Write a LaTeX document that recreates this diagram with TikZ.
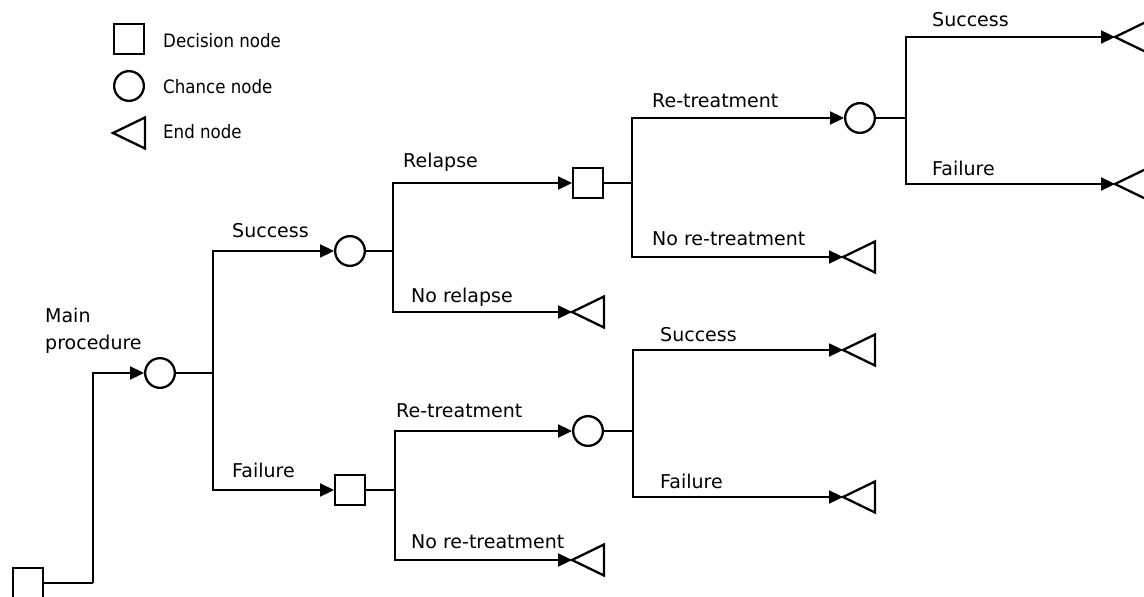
\documentclass[tikz,border=0pt]{standalone}
\usepackage{fontspec}
\setmainfont{DejaVu Sans}
\newfontfamily\condfont{DejaVu Sans Condensed}
\usetikzlibrary{arrows.meta}
\begin{document}
\begin{tikzpicture}[x=1pt,y=-1pt,
  decbox/.style={draw,line width=2.3pt,minimum size=29.7pt,inner sep=0pt},
  chancenode/.style={draw,circle,line width=2.3pt,minimum size=29.7pt,inner sep=0pt},
  endtri/.style={draw,line width=2.3pt,line join=miter},
  conn/.style={draw,line width=2.3pt},
  arr/.style={draw,line width=2.3pt,-{Triangle[length=14pt,width=13pt]}},
  lbl/.style={anchor=base west,inner sep=0pt,font=\fontsize{19}{23}\selectfont},
  leg/.style={anchor=base west,inner sep=0pt,font=\condfont\fontsize{18.5}{22}\selectfont}]
\useasboundingbox (0,0) rectangle (1144,597);

% legend
\node[decbox] (ldec) at (129,39) {};
\node[chancenode] (lch) at (129,86) {};
\coordinate (lend) at (113,133);
\draw[endtri] (lend) -- ++(32,-15.5) -- ++(0,31) -- cycle;
\node[leg] (tdec) at (163,47) {Decision node};
\node[leg] (tch) at (163,93) {Chance node};
\node[leg] (tend) at (163,138) {End node};

% nodes
\node[decbox] (d0) at (28,583) {};
\node[chancenode] (c0) at (160,373) {};
\node[chancenode] (c1) at (350,251) {};
\node[decbox] (d1) at (350,490) {};
\node[decbox] (d2) at (588,183) {};
\node[chancenode] (c2) at (860,118) {};
\node[chancenode] (c3) at (588,431) {};

% end nodes
\coordinate (e1) at (572,312);
\coordinate (e2) at (843,257);
\coordinate (e3) at (1115,37);
\coordinate (e4) at (1115,184);
\coordinate (e5) at (572,560);
\coordinate (e6) at (843,350);
\coordinate (e7) at (843,497);
\foreach \e in {e1,e2,e3,e4,e5,e6,e7}
  \draw[endtri] (\e) -- ++(32,-15.5) -- ++(0,31) -- cycle;

% junctions
\coordinate (jr) at (93,583);
\coordinate (j0) at (213,373);
\coordinate (j1) at (393,251);
\coordinate (j2) at (632,183);
\coordinate (j3) at (906,118);
\coordinate (j4) at (395,490);
\coordinate (j5) at (633,431);

% connectors
\draw[conn] (d0.east) -- (jr);
\draw[arr] (jr) |- (c0);
\draw[conn] (c0.east) -- (j0);
\draw[arr] (j0) |- (c1);
\draw[arr] (j0) |- (d1);
\draw[conn] (c1.east) -- (j1);
\draw[arr] (j1) |- (d2);
\draw[arr] (j1) |- (e1);
\draw[conn] (d2.east) -- (j2);
\draw[arr] (j2) |- (c2);
\draw[arr] (j2) |- (e2);
\draw[conn] (c2.east) -- (j3);
\draw[arr] (j3) |- (e3);
\draw[arr] (j3) |- (e4);
\draw[conn] (d1.east) -- (j4);
\draw[arr] (j4) |- (c3);
\draw[arr] (j4) |- (e5);
\draw[conn] (c3.east) -- (j5);
\draw[arr] (j5) |- (e6);
\draw[arr] (j5) |- (e7);

% labels
\node[lbl] (lmain1) at (45,322) {Main};
\node[lbl] (lmain2) at (45,349) {procedure};
\node[lbl] (ls1) at (232,237) {Success};
\node[lbl] (lf1) at (232,477) {Failure};
\node[lbl] (lrel) at (403,167) {Relapse};
\node[lbl] (lnorel) at (411,302) {No relapse};
\node[lbl] (lrt1) at (652,107) {Re-treatment};
\node[lbl] (lnrt1) at (652,245) {No re-treatment};
\node[lbl] (ls2) at (932,27) {Success};
\node[lbl] (lf2) at (932,175) {Failure};
\node[lbl] (lrt2) at (396,417) {Re-treatment};
\node[lbl] (lnrt2) at (411,548) {No re-treatment};
\node[lbl] (ls3) at (660,341) {Success};
\node[lbl] (lf3) at (660,488) {Failure};
\end{tikzpicture}
\end{document}
